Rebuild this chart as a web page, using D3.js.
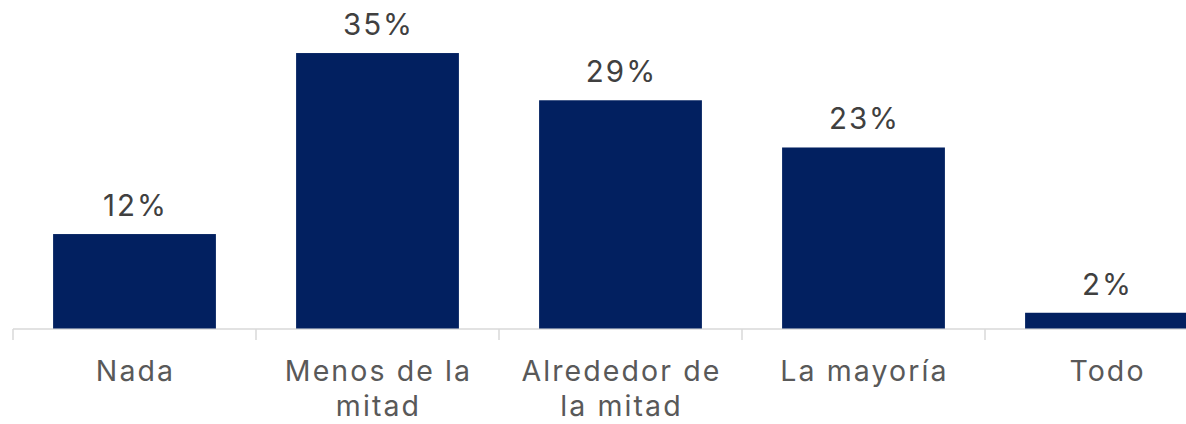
<!DOCTYPE html>
<html><head><meta charset="utf-8">
<script src="https://cdn.jsdelivr.net/npm/d3@7"></script>
<style>html,body{margin:0;padding:0;background:#fff;overflow:hidden}</style>
</head><body><svg id="c" width="1186" height="424"></svg>
<script>
const categories = [["Nada"], ["Menos de la", "mitad"], ["Alrededor de", "la mitad"], ["La mayoría"], ["Todo"]];
const values = [12, 35, 29, 23, 2];
const labels = ["12%", "35%", "29%", "23%", "2%"];

const svg = d3.select("#c");
const font = "Inter, 'Noto Sans', sans-serif";
const keys = categories.map((c, i) => i);
const x = d3.scaleBand().domain(keys).range([13, 1228]).padding(0);
const y = d3.scaleLinear().domain([0, 40]).range([328.5, 13.7]);
const barFrac = 0.67;

svg.append("line").attr("x1", 13).attr("x2", 1228).attr("y1", 329).attr("y2", 329)
  .attr("stroke", "#d9d9d9").attr("stroke-width", 1.5);
keys.concat([5]).forEach(k => {
  const xx = k < 5 ? x(k) : x(4) + x.step();
  svg.append("line").attr("x1", xx).attr("x2", xx).attr("y1", 329).attr("y2", 340)
    .attr("stroke", "#d9d9d9").attr("stroke-width", 1.5);
});

const bw = x.bandwidth() * barFrac;
svg.selectAll("rect.bar").data(values).join("rect")
  .attr("x", (d, i) => x(i) + (x.bandwidth() - bw) / 2)
  .attr("width", bw)
  .attr("y", d => y(d))
  .attr("height", d => y(0) - y(d))
  .attr("fill", "#022060");

svg.selectAll("text.val").data(values).join("text")
  .attr("x", (d, i) => x(i) + x.bandwidth() / 2 + 1)
  .attr("y", d => y(d) - 18)
  .attr("text-anchor", "middle")
  .attr("font-family", font).attr("font-size", 29.5).attr("letter-spacing", 2).attr("fill", "#404040")
  .text((d, i) => labels[i]);

categories.forEach((lines, i) => {
  lines.forEach((l, j) => {
    svg.append("text").attr("text-anchor", "middle")
      .attr("font-family", font).attr("font-size", 28.5).attr("letter-spacing", 2.1).attr("fill", "#595959")
      .attr("x", x(i) + x.bandwidth() / 2 + 1).attr("y", 381 + j * 35).text(l);
  });
});
</script></body></html>
